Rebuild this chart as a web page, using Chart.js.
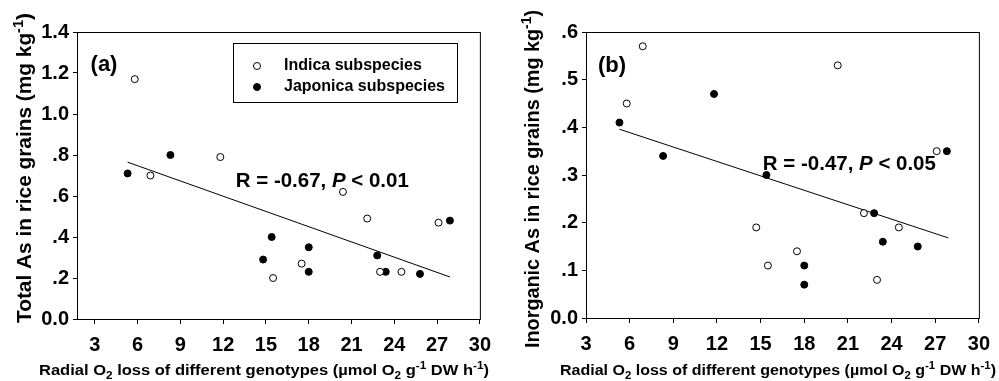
<!DOCTYPE html>
<html>
<head>
<meta charset="utf-8">
<script src="https://cdn.jsdelivr.net/npm/chart.js@4"></script>
<style>
  body { margin: 0; background: #fff; }
  #wrap { position: relative; width: 999px; height: 381px; }
  canvas { position: absolute; top: 0; }
</style>
</head>
<body>
<div id="wrap">
  <canvas id="chart_a" width="500" height="381" style="left:0"></canvas>
  <canvas id="chart_b" width="499" height="381" style="left:500px"></canvas>
</div>
<script>
const FONT = '"Liberation Sans", Arial, sans-serif';

const xTicks = [3, 6, 9, 12, 15, 18, 21, 24, 27, 30];

// panel (a) total As
const a_indicaX = [5.8, 6.9, 11.8, 20.4, 22.1, 27.1, 15.5, 17.5, 23.0, 24.5];
const a_indicaY = [1.17, 0.70, 0.79, 0.62, 0.49, 0.47, 0.20, 0.27, 0.23, 0.23];
const a_japonicaX = [5.3, 8.3, 15.4, 14.8, 18.0, 18.0, 22.8, 23.4, 25.8, 27.9];
const a_japonicaY = [0.71, 0.80, 0.40, 0.29, 0.35, 0.23, 0.31, 0.23, 0.22, 0.48];
const a_fitX = [5.3, 27.9];
const a_fitY = [0.765, 0.205];

// panel (b) inorganic As
const b_indicaX = [6.9, 5.8, 20.3, 14.7, 15.5, 17.5, 22.1, 24.5, 23.0, 27.1];
const b_indicaY = [0.57, 0.45, 0.53, 0.19, 0.11, 0.14, 0.22, 0.19, 0.08, 0.35];
const b_japonicaX = [5.3, 8.3, 11.8, 15.4, 22.8, 23.4, 25.8, 18.0, 18.0, 27.8];
const b_japonicaY = [0.41, 0.34, 0.47, 0.30, 0.22, 0.16, 0.15, 0.11, 0.07, 0.35];
const b_fitX = [5.3, 27.9];
const b_fitY = [0.396, 0.168];

const pts = (xs, ys) => xs.map((x, i) => ({x: x, y: ys[i]}));

// text pieces: [text, 'n' | 'i' | 'sub' | 'sup']
const xTitle = [['Radial O', 'n'], ['2', 'sub'], [' loss of different genotypes (\u00b5mol O', 'n'], ['2', 'sub'],
                [' g', 'n'], ['-1', 'sup'], [' DW h', 'n'], ['-1', 'sup'], [')', 'n']];

function setFont(ctx, kind, size) {
    let s = (kind === 'sub' || kind === 'sup') ? Math.round(size * 0.72) : size;
    ctx.font = (kind === 'i' ? 'italic ' : '') + 'bold ' + s + 'px ' + FONT;
}

function richWidth(ctx, segs, size) {
    let w = 0;
    segs.forEach(s => { setFont(ctx, s[1], size); w += ctx.measureText(s[0]).width; });
    return w;
}

// draws centered at (cx, baseline), optional horizontal stretch to width
function drawRich(ctx, segs, cx, base, size, rot, fitW) {
    ctx.save();
    ctx.translate(cx, base);
    if (rot) ctx.rotate(rot);
    let w = richWidth(ctx, segs, size);
    if (fitW) { ctx.scale(fitW / w, 1); }
    ctx.fillStyle = '#000';
    ctx.textBaseline = 'alphabetic';
    ctx.textAlign = 'left';
    let x = -w / 2;
    segs.forEach(s => {
        setFont(ctx, s[1], size);
        let dy = s[1] === 'sub' ? size * 0.28 : s[1] === 'sup' ? -size * 0.42 : 0;
        ctx.fillText(s[0], x, dy);
        x += ctx.measureText(s[0]).width;
    });
    ctx.restore();
}

function makeChart(id, cfg) {
    const frame = {
        id: 'frame',
        afterDraw(chart) {
            const ctx = chart.ctx;
            const ca = chart.chartArea;
            const sx = chart.scales.x, sy = chart.scales.y;
            ctx.save();
            ctx.strokeStyle = '#000';
            ctx.lineWidth = 1;
            ctx.strokeRect(ca.left + 0.5, ca.top + 0.5, ca.right - ca.left, ca.bottom - ca.top);
            ctx.restore();

            // panel letter
            drawRich(ctx, [[cfg.letter, 'n']], cfg.letterPos[0], cfg.letterPos[1], 22);
            // correlation note
            drawRich(ctx, cfg.note, sx.getPixelForValue(cfg.noteAt[0]), sy.getPixelForValue(cfg.noteAt[1]), 20, 0, 173);
            // axis titles
            drawRich(ctx, cfg.yTitle, cfg.yTitlePos[0], cfg.yTitlePos[1], 20, -Math.PI / 2, cfg.yTitlePos[2]);
            drawRich(ctx, xTitle, cfg.xTitlePos[0], cfg.xTitlePos[1], 14, 0, cfg.xTitlePos[2]);

            if (cfg.legend) {
                const L = cfg.legend;
                ctx.save();
                ctx.strokeStyle = '#000';
                ctx.lineWidth = 1;
                ctx.strokeRect(L.x + 0.5, L.y + 0.5, L.w, L.h);
                chart.data.datasets.slice(0, 2).forEach((ds, i) => {
                    const yy = L.y + 23 + i * 21;
                    ctx.beginPath();
                    ctx.arc(L.x + 24, yy, 3.5, 0, Math.PI * 2);
                    ctx.fillStyle = ds.backgroundColor;
                    ctx.fill();
                    ctx.strokeStyle = '#000';
                    ctx.stroke();
                    ctx.fillStyle = '#000';
                    ctx.font = 'bold 16px ' + FONT;
                    ctx.textBaseline = 'middle';
                    ctx.fillText(ds.label, L.x + 51, yy);
                });
                ctx.restore();
            }
        }
    };

    return new Chart(document.getElementById(id), {
        type: 'scatter',
        data: {
            datasets: [{
                label: 'Indica subspecies',
                data: pts(cfg.indicaX, cfg.indicaY),
                backgroundColor: '#fff',
                borderColor: '#000',
                borderWidth: 1,
                pointRadius: 3.5,
            }, {
                label: 'Japonica subspecies',
                data: pts(cfg.japonicaX, cfg.japonicaY),
                backgroundColor: '#000',
                borderColor: '#000',
                borderWidth: 1,
                pointRadius: 3.5,
            }, {
                type: 'line',
                label: 'fit',
                data: pts(cfg.fitX, cfg.fitY),
                borderColor: '#000',
                borderWidth: 1,
                pointRadius: 0,
                fill: false,
            }]
        },
        options: {
            responsive: false,
            animation: false,
            devicePixelRatio: 1,
            layout: {padding: {top: cfg.pad[0], right: cfg.pad[1], left: 0, bottom: 0}},
            plugins: {legend: {display: false}, tooltip: {enabled: false}},
            scales: {
                x: {
                    type: 'linear',
                    min: cfg.xMin,
                    max: 30,
                    afterBuildTicks: s => { s.ticks = xTicks.map(v => ({value: v})); },
                    afterFit: s => { s.height = cfg.xH; },
                    border: {display: true, color: '#000', width: 1},
                    grid: {drawOnChartArea: false, tickLength: 5, color: '#000'},
                    ticks: {color: '#000', padding: 9, maxRotation: 0, autoSkip: false,
                            font: {family: FONT, size: 20, weight: 'bold'}}
                },
                y: {
                    min: 0,
                    max: cfg.yMax,
                    afterFit: s => { s.width = cfg.yW; },
                    border: {display: true, color: '#000', width: 1},
                    grid: {drawOnChartArea: false, tickLength: 4, color: '#000'},
                    ticks: {
                        color: '#000', padding: 4, stepSize: cfg.yStep,
                        font: {family: FONT, size: 20, weight: 'bold'},
                        callback: v => {
                            let r = Math.round(v * 10) / 10;
                            let s = r.toFixed(1);
                            return (r > 0 && r < 1) ? s.slice(1) : s;
                        }
                    }
                }
            }
        },
        plugins: [frame]
    });
}

makeChart('chart_a', {
    indicaX: a_indicaX, indicaY: a_indicaY,
    japonicaX: a_japonicaX, japonicaY: a_japonicaY,
    fitX: a_fitX, fitY: a_fitY,
    xMin: 1.75, yMax: 1.4, yStep: 0.2,
    pad: [32, 20], yW: 77, xH: 62,
    letter: '(a)', letterPos: [104, 71],
    note: [['R = -0.67, ', 'n'], ['P', 'i'], [' < 0.01', 'n']], noteAt: [18.95, 0.645],
    yTitle: [['Total As in rice grains (mg kg', 'n'], ['-1', 'sup'], [')', 'n']], yTitlePos: [31, 168, 310],
    xTitlePos: [264, 375, 450],
    legend: {x: 233, y: 43, w: 224, h: 59}
});

makeChart('chart_b', {
    indicaX: b_indicaX, indicaY: b_indicaY,
    japonicaX: b_japonicaX, japonicaY: b_japonicaY,
    fitX: b_fitX, fitY: b_fitY,
    xMin: 3, yMax: 0.6, yStep: 0.1,
    pad: [32, 17], yW: 86, xH: 63,
    letter: '(b)', letterPos: [112, 72],
    note: [['R = -0.47, ', 'n'], ['P', 'i'], [' < 0.05', 'n']], noteAt: [21.1, 0.311],
    yTitle: [['Inorganic As in rice grains (mg kg', 'n'], ['-1', 'sup'], [')', 'n']], yTitlePos: [39, 179, 338],
    xTitlePos: [278, 375, 436]
});
</script>
</body>
</html>
